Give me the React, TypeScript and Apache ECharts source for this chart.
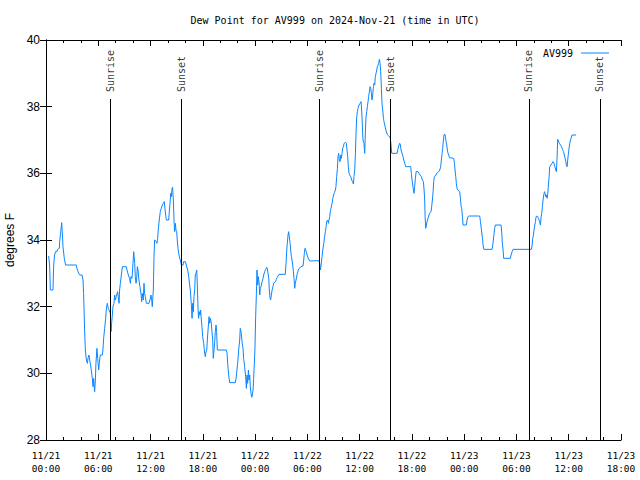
import React, { useEffect, useRef } from "react";
import * as echarts from "echarts";

// ---- data (times are minutes after 2024-11-21 00:00 UTC, values in degrees F) ----
const START_UTC = Date.UTC(2024, 10, 21, 0, 0);
const X_SPAN_HOURS = 66;
const X_STEP_HOURS = 6;
const Y_MIN = 28;
const Y_MAX = 40;
const Y_STEP = 2;

const seriesName = "AV999";
const titleText = "Dew Point for AV999 on 2024-Nov-21 (time in UTC)";
const yAxisTitle = "degrees F";

const sunEvents = [
  { name: "Sunrise", minute: 445 },
  { name: "Sunset", minute: 934 },
  { name: "Sunrise", minute: 1885 },
  { name: "Sunset", minute: 2374 },
  { name: "Sunrise", minute: 3325 },
  { name: "Sunset", minute: 3814 },
];
const sunLineTop = 38.23;

const readingsPart1: [number, number][] = [
  [18, 33.52], [25, 33.25], [30, 32.5], [48, 32.5], [53, 33.25], [59, 33.55], [66, 33.65], [76, 33.65],
  [80, 33.72], [92, 33.75], [94, 33.95], [103, 34.3], [108, 34.52], [112, 34.25], [117, 33.8], [126, 33.45],
  [135, 33.25], [209, 33.25], [213, 33.15], [225, 33.0], [232, 32.95], [248, 32.95], [255, 32.8], [259, 32.4],
  [266, 31.3], [271, 30.7], [278, 30.4], [285, 30.3], [289, 30.45], [296, 30.55], [301, 30.4], [307, 30.25],
  [312, 30.1], [319, 29.85], [324, 29.6], [328, 29.85], [335, 29.45], [340, 29.8], [344, 30.3], [351, 30.75],
  [356, 30.45], [363, 30.1], [367, 30.3], [374, 30.55], [388, 30.55], [392, 30.7], [397, 31.05], [404, 31.35],
  [411, 31.65], [415, 31.9], [422, 32.1], [429, 31.95], [443, 31.8], [448, 31.25], [452, 31.5], [457, 31.75],
  [461, 32.0], [468, 32.1], [473, 32.35], [477, 32.2], [484, 32.3], [493, 32.45], [498, 32.3], [503, 32.1],
  [507, 32.5], [512, 32.7], [519, 32.95], [526, 33.2], [553, 33.2], [558, 33.1], [567, 32.95], [576, 32.85],
  [581, 32.7], [585, 32.9], [592, 32.85], [599, 33.3], [604, 33.65], [611, 33.3], [615, 32.9], [620, 32.7],
  [624, 32.8], [629, 33.2], [634, 33.1], [640, 32.8], [647, 32.6], [654, 32.4], [659, 32.15], [663, 32.4],
  [670, 32.2], [675, 32.7], [679, 32.4], [684, 32.3], [691, 32.1], [709, 32.1], [716, 32.2], [723, 32.35],
  [728, 32.2], [732, 32.0], [739, 32.5], [744, 33.5], [748, 34.0], [760, 33.95], [764, 33.9], [769, 34.05],
  [774, 34.35], [780, 34.6], [787, 34.85], [794, 34.95], [801, 35.05], [808, 35.1], [815, 35.15], [820, 34.9],
  [824, 34.75], [829, 34.6], [845, 34.6], [849, 34.85], [854, 35.1], [859, 35.4], [863, 35.3], [868, 35.55],
  [872, 35.58], [877, 35.2], [882, 34.55], [886, 34.25], [891, 34.5], [895, 34.3], [900, 34.25], [904, 34.0],
  [909, 33.75], [914, 33.6], [921, 33.45], [925, 33.4],
];

const readingsPart2: [number, number][] = [
  [932, 33.25], [944, 33.25], [948, 33.35], [960, 33.35], [966, 33.25], [976, 33.1], [983, 32.9], [989, 32.65],
  [994, 32.5], [1001, 32.05], [1006, 31.65], [1010, 32.1], [1015, 31.85], [1019, 32.3], [1024, 32.5], [1028, 32.95],
  [1033, 33.0], [1038, 33.1], [1042, 32.65], [1047, 31.95], [1051, 31.65], [1056, 31.85], [1061, 31.75], [1065, 31.9],
  [1070, 31.6], [1074, 31.4], [1079, 31.1], [1086, 30.9], [1090, 30.7], [1097, 30.5], [1102, 30.65], [1107, 30.7],
  [1111, 31.0], [1116, 31.3], [1123, 31.7], [1127, 31.5], [1132, 31.65], [1139, 31.5], [1143, 31.25], [1148, 31.0],
  [1152, 30.45], [1157, 30.7], [1162, 30.95], [1166, 31.25], [1171, 31.45], [1175, 31.25], [1180, 30.7], [1242, 30.7],
  [1247, 30.6], [1251, 30.3], [1258, 29.95], [1265, 29.72], [1304, 29.72], [1309, 29.85], [1315, 30.1], [1320, 30.3],
  [1327, 30.7], [1334, 31.0], [1338, 31.35], [1345, 31.2], [1350, 30.95], [1357, 30.75], [1361, 30.45], [1368, 30.2],
  [1375, 29.9], [1380, 29.55], [1384, 29.95], [1389, 29.7], [1394, 30.1], [1398, 29.8], [1403, 29.95], [1407, 29.6],
  [1412, 29.4], [1417, 29.28], [1421, 29.35], [1426, 29.5], [1430, 29.85], [1435, 30.3], [1439, 30.75], [1444, 31.7],
  [1449, 32.4], [1453, 33.1], [1458, 32.65], [1462, 32.9], [1467, 32.75], [1472, 32.35], [1476, 32.55], [1481, 32.6],
  [1488, 32.75], [1495, 32.85], [1499, 32.95], [1506, 33.05], [1513, 33.12], [1520, 33.18], [1524, 33.15], [1529, 33.0],
  [1534, 32.85], [1538, 32.5], [1543, 32.25], [1547, 32.2], [1552, 32.35], [1557, 32.5], [1563, 32.6], [1568, 32.7],
  [1580, 32.75], [1586, 32.82], [1593, 32.88], [1605, 32.97], [1648, 32.97], [1653, 33.3], [1658, 33.7], [1662, 33.9],
  [1667, 34.15], [1671, 34.25], [1676, 34.1], [1681, 33.9], [1685, 33.7], [1690, 33.5], [1694, 33.4], [1699, 33.25],
  [1704, 33.05], [1708, 32.85], [1713, 32.55], [1717, 32.7], [1722, 32.8], [1731, 33.0], [1738, 33.1], [1745, 33.15],
  [1756, 33.2], [1770, 33.22], [1775, 33.4], [1779, 33.6], [1784, 33.75], [1788, 33.7], [1793, 33.65], [1798, 33.55],
  [1805, 33.47], [1811, 33.4], [1818, 33.37],
];

const readingsPart3: [number, number][] = [
  [1878, 33.38], [1885, 33.3], [1890, 33.1], [1896, 33.3], [1901, 33.5], [1906, 33.7], [1913, 33.9], [1919, 34.1],
  [1924, 34.25], [1929, 34.4], [1933, 34.55], [1940, 34.6], [1945, 34.5], [1949, 34.6], [1954, 34.7], [1958, 34.85],
  [1963, 34.95], [1970, 35.1], [1975, 35.25], [1981, 35.35], [1986, 35.42], [1993, 35.5], [1997, 35.6], [2002, 35.9],
  [2007, 36.15], [2011, 36.5], [2016, 36.6], [2020, 36.4], [2025, 36.35], [2030, 36.55], [2034, 36.45], [2039, 36.6],
  [2043, 36.75], [2048, 36.8], [2053, 36.9], [2064, 36.93], [2069, 36.9], [2073, 36.7], [2078, 36.5], [2082, 36.2],
  [2087, 36.0], [2092, 35.95], [2099, 35.9], [2105, 35.8], [2112, 35.75], [2117, 35.68], [2121, 35.9], [2126, 36.1],
  [2131, 36.6], [2135, 37.2], [2140, 37.7], [2144, 37.85], [2149, 37.95], [2156, 38.05], [2163, 38.1], [2170, 38.15],
  [2174, 37.9], [2179, 37.4], [2183, 37.0], [2190, 36.9], [2195, 36.6], [2200, 37.3], [2204, 37.7], [2209, 37.85],
  [2213, 38.0], [2218, 38.15], [2222, 38.3], [2227, 38.45], [2232, 38.6], [2236, 38.55], [2241, 38.4], [2245, 38.2],
  [2250, 38.35], [2255, 38.6], [2259, 38.7], [2264, 38.65], [2268, 38.9], [2273, 39.0], [2278, 39.1], [2282, 39.2],
  [2287, 39.25], [2291, 39.3], [2296, 39.42], [2301, 39.3], [2305, 39.05], [2310, 38.55], [2314, 38.1], [2319, 37.9],
  [2324, 37.65], [2328, 37.55], [2333, 37.45], [2337, 37.37], [2342, 37.28], [2347, 37.2], [2353, 37.15], [2360, 37.12],
  [2367, 37.1], [2372, 37.05], [2376, 36.85], [2381, 36.6], [2418, 36.6], [2425, 36.75], [2431, 36.85], [2436, 36.9],
  [2441, 36.85], [2445, 36.7], [2452, 36.6], [2459, 36.5], [2464, 36.4], [2471, 36.3], [2477, 36.2], [2512, 36.2],
  [2516, 36.0], [2521, 35.8], [2526, 35.65], [2530, 35.5], [2535, 35.4], [2539, 35.6], [2544, 35.85], [2549, 36.05],
  [2562, 36.05], [2569, 36.0], [2576, 35.95], [2585, 35.9], [2592, 35.8], [2599, 35.75], [2604, 35.5], [2608, 35.2],
  [2611, 34.7], [2615, 34.35], [2620, 34.45], [2624, 34.55], [2631, 34.65], [2638, 34.75], [2645, 34.82], [2652, 34.85],
  [2656, 35.0], [2661, 35.2], [2666, 35.45], [2670, 35.75], [2675, 35.9], [2682, 35.92], [2689, 35.98], [2695, 36.02],
  [2705, 36.05], [2712, 36.1], [2718, 36.2], [2723, 36.4], [2728, 36.6], [2732, 36.75], [2737, 37.0], [2741, 37.15],
  [2746, 37.18], [2751, 37.1], [2755, 36.95], [2760, 36.85], [2764, 36.7], [2769, 36.6], [2774, 36.55], [2778, 36.47],
];

const readingsPart4: [number, number][] = [
  [2808, 36.45], [2813, 36.3], [2817, 36.1], [2822, 35.9], [2826, 35.7], [2831, 35.55], [2836, 35.5], [2849, 35.45],
  [2854, 35.25], [2859, 35.0], [2863, 34.95], [2868, 34.7], [2872, 34.45], [2895, 34.45], [2900, 34.6], [2907, 34.7],
  [2911, 34.72], [2987, 34.72], [2992, 34.55], [2999, 34.3], [3006, 34.05], [3010, 33.85], [3015, 33.72], [3072, 33.72],
  [3077, 33.85], [3081, 34.0], [3086, 34.2], [3090, 34.35], [3095, 34.45], [3134, 34.45], [3139, 34.2], [3143, 33.9],
  [3148, 33.7], [3152, 33.45], [3198, 33.45], [3203, 33.55], [3210, 33.65], [3217, 33.72], [3343, 33.72], [3348, 33.85],
  [3352, 34.05], [3357, 34.15], [3361, 34.3], [3366, 34.45], [3371, 34.55], [3375, 34.7], [3382, 34.72], [3387, 34.7],
  [3391, 34.65], [3396, 34.6], [3400, 34.55], [3405, 34.45], [3410, 34.7], [3414, 34.8], [3419, 35.0], [3423, 35.2],
  [3428, 35.35], [3433, 35.45], [3437, 35.4], [3442, 35.3], [3446, 35.35], [3451, 35.25], [3456, 35.4], [3460, 35.65],
  [3465, 35.9], [3469, 36.2], [3478, 36.25], [3485, 36.3], [3492, 36.35], [3499, 36.3], [3504, 36.2], [3511, 36.1],
  [3515, 36.05], [3520, 36.5], [3524, 37.02], [3529, 36.97], [3536, 36.9], [3543, 36.85], [3550, 36.8], [3557, 36.72],
  [3564, 36.65], [3570, 36.55], [3575, 36.45], [3580, 36.35], [3584, 36.25], [3589, 36.2], [3593, 36.4], [3598, 36.6],
  [3602, 36.75], [3607, 36.9], [3612, 37.0], [3616, 37.05], [3623, 37.15], [3651, 37.15],
];

const MONO = "'DejaVu Sans Mono', 'Liberation Mono', monospace";
const SANS = "'Liberation Sans', Arial, sans-serif";
const LINE_COLOR = "#0a86ff";

function pad2(n: number) {
  return n < 10 ? "0" + n : "" + n;
}
function hourLabel(h: number) {
  const d = new Date(START_UTC + h * 3600000);
  return `${pad2(d.getUTCMonth() + 1)}/${pad2(d.getUTCDate())}\n${pad2(d.getUTCHours())}:${pad2(d.getUTCMinutes())}`;
}

export default function App() {
  const ref = useRef<HTMLDivElement>(null);
  useEffect(() => {
    if (!ref.current) return;
    const chart = echarts.init(ref.current, null, { renderer: "svg" });
    const readings = [...readingsPart1, ...readingsPart2, ...readingsPart3, ...readingsPart4];
    const lineData = readings.map(([m, v]) => [m / 60, v]);

    const axisLine = { show: true, lineStyle: { color: "#000", width: 1 } };
    const xCommon = {
      type: "value" as const,
      min: 0,
      max: X_SPAN_HOURS,
      interval: X_STEP_HOURS,
      axisLine,
      axisTick: { show: true, inside: true, length: 6, lineStyle: { color: "#000" } },
      minorTick: { show: true, splitNumber: 3, length: 3, lineStyle: { color: "#000" } },
      splitLine: { show: false },
      minorSplitLine: { show: false },
    };
    const yCommon = {
      type: "value" as const,
      min: Y_MIN,
      max: Y_MAX,
      interval: Y_STEP,
      axisLine,
      axisTick: { show: true, inside: true, length: 6, lineStyle: { color: "#000" } },
      splitLine: { show: false },
    };

    chart.setOption({
      animation: false,
      backgroundColor: "#fff",
      title: {
        text: titleText,
        left: 330,
        top: 10,
        textAlign: "center",
        textStyle: { fontFamily: MONO, fontSize: 10, fontWeight: "normal", color: "#000" },
      },
      legend: {
        data: [seriesName],
        right: 26,
        top: 43,
        align: "right",
        icon: "rect",
        itemWidth: 28,
        itemHeight: 1,
        textStyle: { fontFamily: MONO, fontSize: 10, color: "#000", padding: [0, 3, 0, 0] },
      },
      grid: { left: 46, right: 19, top: 40, bottom: 40, containLabel: false, outerBoundsMode: "none" },
      xAxis: [
        {
          ...xCommon,
          position: "bottom",
          axisLabel: {
            show: true,
            formatter: (v: number) => hourLabel(v),
            fontFamily: MONO,
            fontSize: 9.5,
            lineHeight: 13,
            color: "#000",
            margin: 9,
          },
        },
        { ...xCommon, position: "top", axisLabel: { show: false } },
      ],
      yAxis: [
        {
          ...yCommon,
          position: "left",
          axisLabel: { show: true, fontFamily: SANS, fontSize: 12, color: "#000", margin: 6 },
          name: yAxisTitle,
          nameLocation: "middle",
          nameGap: 28,
          nameTextStyle: { fontFamily: SANS, fontSize: 12, color: "#000" },
        },
        { ...yCommon, position: "right", axisLabel: { show: false } },
      ],
      series: [
        {
          name: seriesName,
          type: "line",
          xAxisIndex: 0,
          yAxisIndex: 0,
          data: lineData,
          symbol: "none",
          showSymbol: false,
          lineStyle: { color: LINE_COLOR, width: 1 },
          itemStyle: { color: LINE_COLOR },
          markLine: {
            silent: true,
            symbol: ["none", "none"],
            label: { show: false },
            lineStyle: { color: "#000", width: 1, type: "solid" },
            data: sunEvents.map((e) => [
              { coord: [e.minute / 60, Y_MIN] },
              { coord: [e.minute / 60, sunLineTop] },
            ]),
          },
          z: 3,
        },
        {
          name: "sun-labels",
          type: "scatter",
          xAxisIndex: 0,
          yAxisIndex: 0,
          symbolSize: 0,
          silent: true,
          data: sunEvents.map((e) => ({ name: e.name, value: [e.minute / 60, sunLineTop] })),
          label: {
            show: true,
            formatter: "{b}",
            position: "top",
            distance: 7,
            rotate: 90,
            align: "left",
            verticalAlign: "middle",
            fontFamily: MONO,
            fontSize: 10,
            color: "#000",
          },
        },
      ],
    });
    return () => chart.dispose();
  }, []);
  return (
    <div
      ref={ref}
      style={{ position: "fixed", left: 0, top: 0, width: 640, height: 480, background: "#fff" }}
    />
  );
}
